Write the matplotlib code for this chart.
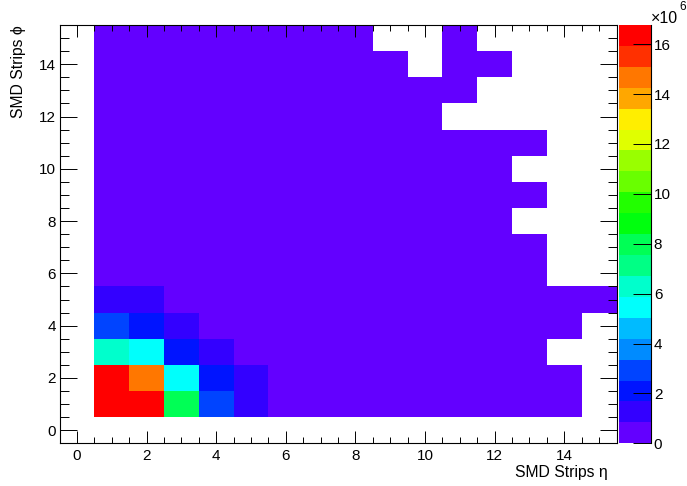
import colorsys
import numpy as np
import matplotlib
matplotlib.use("Agg")
import matplotlib.pyplot as plt
from matplotlib.colors import ListedColormap, BoundaryNorm

plt.rcParams['font.family'] = ['Liberation Sans', 'DejaVu Sans']

# ---- data (counts in units of 1e6) ----
eta_edges = np.arange(-0.5, 16.5, 1.0)
phi_edges = np.arange(-0.5, 16.5, 1.0)

# last filled eta strip for each phi strip (phi = 0..15); None = empty row
row_last_eta = [None, 14, 14, 13, 14, 15, 13, 13, 12, 13, 12, 13, 10, 11, 12, 11]
# (eta, phi) bins that are empty inside the filled rows
holes = [(9, 15), (10, 15), (10, 14)]
# low-count level of each phi row (violet cells)
row_floor = [0.0, 0.55, 0.5, 0.45, 0.42, 0.4, 0.36, 0.33, 0.3, 0.28,
             0.25, 0.22, 0.2, 0.18, 0.15, 0.12]
# hot corner, phi = 1..5 (rows) x eta = 1..5 (cols); None = floor level
corner = [
    [16.77, 16.2, 7.9, 3.0, 1.3],
    [16.5, 14.8, 5.6, 2.1, 1.2],
    [6.4, 5.5, 2.0, 1.1, None],
    [2.9, 2.2, 1.2, None, None],
    [1.2, 1.1, None, None, None],
]
z_ticks = [0, 2, 4, 6, 8, 10, 12, 14, 16]

# ---- build histogram ----
counts = np.full((16, 16), np.nan)     # [phi, eta]
for phi, last in enumerate(row_last_eta):
    if last is None:
        continue
    counts[phi, 1:last + 1] = row_floor[phi]
for eta, phi in holes:
    counts[phi, eta] = np.nan
for i, row in enumerate(corner):
    for j, v in enumerate(row):
        if v is not None:
            counts[i + 1, j + 1] = v

# ---- ROOT default palette (50 colours), 20 contours ----
ncolors, ncont = 50, 20
pal = [colorsys.hls_to_rgb((280 - (i + 1) * 280 / ncolors) / 360, 0.5, 1.0)
       for i in range(ncolors)]
band_colors = [pal[int((k + 0.99) * ncolors / ncont)] for k in range(ncont)]
zmax = np.nanmax(counts)
levels = np.linspace(0, zmax, ncont + 1)
cmap = ListedColormap(band_colors)
norm = BoundaryNorm(levels, cmap.N)

W, H = 687, 486
fig = plt.figure(figsize=(W / 100, H / 100), dpi=100)
ax = fig.add_axes([59.5 / W, 1 - 443.3 / H, 557 / W, 418.3 / H])
cax = fig.add_axes([619 / W, 1 - 443.3 / H, 32 / W, 418.3 / H])

ax.pcolormesh(eta_edges, phi_edges, np.ma.masked_invalid(counts),
              cmap=cmap, norm=norm, antialiased=False, edgecolors='none')
ax.set_xlim(-0.5, 15.5)
ax.set_ylim(-0.5, 15.5)
ax.set_xticks(np.arange(0, 16, 2))
ax.set_yticks(np.arange(0, 16, 2))
ax.set_xticks(np.arange(-0.5, 15.6, 0.5), minor=True)
ax.set_yticks(np.arange(-0.5, 15.6, 0.5), minor=True)
for s in ax.spines.values():
    s.set_linewidth(0.8)
ax.tick_params(axis='x', which='major', direction='in', length=8.8, width=0.7,
               top=True, labelsize=11, pad=4)
ax.tick_params(axis='x', which='minor', direction='in', length=4.4, width=0.7, top=True)
ax.tick_params(axis='y', which='major', direction='in', length=12.2, width=0.7,
               right=True, labelsize=11, pad=2.5)
ax.tick_params(axis='y', which='minor', direction='in', length=6.3, width=0.7, right=True)

# ---- palette axis ----
cax.pcolormesh([0, 1], levels, np.array(levels[:-1] + zmax / ncont / 2).reshape(-1, 1),
               cmap=cmap, norm=norm, antialiased=False, edgecolors='none')
cax.set_xlim(0, 1)
cax.set_ylim(0, zmax)
cax.set_xticks([])
cax.yaxis.tick_right()
cax.set_yticks(z_ticks)
cax.set_yticklabels([str(t) for t in z_ticks])
cax.tick_params(axis='y', direction='in', length=13, width=0.7, labelsize=11, pad=2)
for side in ['left', 'top', 'bottom']:
    cax.spines[side].set_visible(False)
cax.spines['right'].set_linewidth(0.8)

# ---- texts ----
fig.text(608 / W, 1 - 477 / H, 'SMD Strips η', ha='right', va='baseline', fontsize=11.3)
fig.text(19 / W, 1 - 25 / H, 'SMD Strips ϕ', rotation=90, ha='center', va='top',
         fontsize=11.3)
fig.text(651 / W, 1 - 23 / H, '×10', ha='left', va='baseline', fontsize=11.5)
fig.text(679 / W, 1 - 1 / H, '6', ha='left', va='top', fontsize=8.5)

fig.savefig('out.png', dpi=100)
